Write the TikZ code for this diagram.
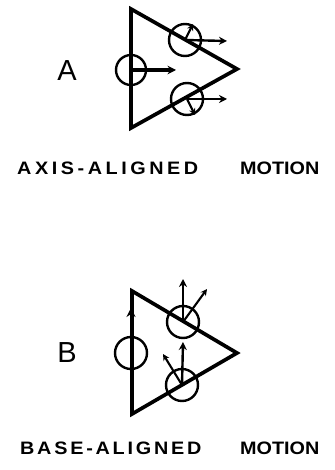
\documentclass[tikz,border=0pt]{standalone}
\usepackage{fontspec}
\usepackage{graphicx}
\setmainfont{Liberation Sans}
\usetikzlibrary{arrows.meta}
\newcommand{\widecap}[2]{\scalebox{1.1}[1]{\addfontfeature{LetterSpace=#1}#2}}
\begin{document}
\begin{tikzpicture}[x=1pt,y=-1pt,
  tri/.style={line width=3.7pt,line join=miter},
  ring/.style={line width=2.4pt},
  arr/.style={line width=2.4pt,-{Stealth[length=8pt,width=8pt]}},
  sarr/.style={line width=2.1pt,-{Stealth[length=6.5pt,width=6.5pt]}},
  captxt/.style={anchor=base west,inner sep=0pt,font=\fontsize{18}{18}\selectfont\bfseries},
  lab/.style={font=\fontsize{29}{29}\selectfont}]
\useasboundingbox (0,0) rectangle (334,470);
% ---- A ----
\coordinate (a1) at (131,9);
\coordinate (a2) at (131,128);
\coordinate (a3) at (237,69);
\draw[tri] (a1) -- (a2) -- (a3) -- cycle;
\node[circle,ring,draw,minimum size=30pt,inner sep=0] (ca) at (131,70) {};
\node[circle,ring,draw,minimum size=32pt,inner sep=0] (cb) at (185,40) {};
\node[circle,ring,draw,minimum size=32pt,inner sep=0] (cc) at (187,99) {};
\coordinate (ta) at (176,70);
\coordinate (tb) at (227,41);
\coordinate (tc) at (227,99);
\coordinate (sb) at (193,24);
\coordinate (sc) at (195,115);
\draw[line width=3.6pt,-{Stealth[length=8.5pt,width=8.5pt]}] (ca.center) -- (ta);
\draw[arr] (cb.center) -- (tb);
\draw[arr] (cc.center) -- (tc);
\draw[sarr] (cb.center) -- (sb);
\draw[sarr] (cc.center) -- (sc);
\node[lab] (la) at (67,71) {A};
\node[captxt] (capa1) at (17,175) {\widecap{18}{AXIS-ALIGNED}};
\node[captxt] (capa2) at (240,175) {\widecap{0}{MOTION}};
% ---- B ----
\coordinate (b1) at (132,291);
\coordinate (b2) at (132,414);
\coordinate (b3) at (237,353);
\draw[tri] (b1) -- (b2) -- (b3) -- cycle;
\node[circle,ring,draw,minimum size=32pt,inner sep=0] (da) at (131,353) {};
\node[circle,ring,draw,minimum size=32pt,inner sep=0] (db) at (183,322) {};
\node[circle,ring,draw,minimum size=32pt,inner sep=0] (dc) at (182,385) {};
\coordinate (ua) at (131,308);
\coordinate (ub) at (183,279);
\coordinate (vb) at (207,289);
\coordinate (uc) at (183,342);
\coordinate (vc) at (163,354);
\draw[line width=2.4pt,-{Stealth[length=9pt,width=9pt]}] (da.center) -- (ua);
\draw[arr] (db.center) -- (ub);
\draw[sarr] (db.center) -- (vb);
\draw[arr] (dc.center) -- (uc);
\draw[sarr] (dc.center) -- (vc);
\node[lab] (lb) at (67,353) {B};
\node[captxt] (capb1) at (20,454) {\widecap{14}{BASE-ALIGNED}};
\node[captxt] (capb2) at (240,454) {\widecap{0}{MOTION}};
\end{tikzpicture}
\end{document}
